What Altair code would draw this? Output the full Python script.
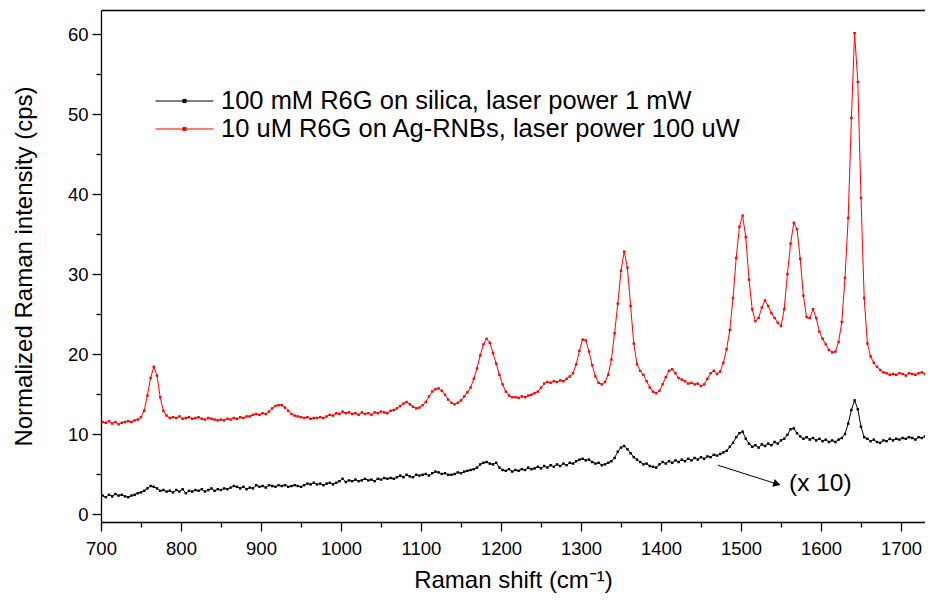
import altair as alt
import pandas as pd

# Raman shift grid (cm^-1), one value every 4 cm^-1
RAMAN_SHIFT = list(range(702, 1731, 4))

# 100 mM R6G on silica (x 10)
SILICA = [
    2.3, 2.1, 2.4, 2.2, 2.5, 2.3, 2.4, 2.2, 2.1, 2.3,
    2.4, 2.6, 2.7, 2.9, 3.2, 3.5, 3.4, 3.2, 2.9, 3.0,
    2.8, 2.9, 2.7, 3.0, 2.8, 3.1, 2.6, 2.9, 2.8, 3.0,
    2.9, 3.1, 2.8, 3.0, 3.2, 2.9, 3.1, 3.0, 3.2, 3.1,
    3.3, 3.5, 3.4, 3.2, 3.4, 3.1, 3.3, 3.2, 3.6, 3.4,
    3.5, 3.3, 3.6, 3.5, 3.4, 3.6, 3.5, 3.6, 3.4, 3.5,
    3.6, 3.5, 3.4, 3.6, 3.8, 3.7, 3.9, 3.7, 3.8, 3.6,
    3.8, 3.9, 3.7, 3.9, 4.1, 4.4, 4.0, 4.2, 4.1, 4.3,
    4.1, 4.2, 4.4, 4.2, 4.3, 4.1, 4.4, 4.3, 4.5, 4.4,
    4.5, 4.4, 4.6, 4.8, 4.6, 4.9, 4.7, 4.6, 4.9, 4.8,
    4.9, 5.0, 4.8, 5.1, 5.3, 5.2, 5.0, 5.1, 4.9, 4.9,
    5.0, 5.2, 5.1, 5.3, 5.4, 5.5, 5.6, 5.8, 6.2, 6.4,
    6.5, 6.3, 6.2, 6.4, 5.8, 5.5, 5.4, 5.6, 5.3, 5.5,
    5.4, 5.6, 5.5, 5.8, 5.6, 5.7, 5.9, 5.7, 6.0, 5.8,
    6.1, 5.9, 6.2, 6.0, 6.3, 6.1, 6.4, 6.3, 6.6, 6.8,
    6.9, 6.7, 6.8, 6.5, 6.3, 6.4, 6.1, 6.2, 6.4, 6.6,
    7.0, 7.8, 8.3, 8.5, 8.1, 7.6, 7.1, 6.8, 6.5, 6.2,
    6.3, 6.0, 5.9, 5.8, 6.2, 6.5, 6.3, 6.6, 6.4, 6.7,
    6.5, 6.8, 6.6, 6.9, 6.7, 7.0, 6.8, 7.1, 6.9, 7.2,
    7.1, 7.4, 7.3, 7.5, 7.7, 7.9, 8.4, 8.9, 9.6, 10.1,
    10.3, 9.4, 8.8, 8.4, 8.6, 8.3, 8.7, 8.5, 8.8, 8.6,
    9.0, 8.8, 9.2, 9.4, 9.9, 10.6, 10.7, 10.1, 9.7, 9.4,
    9.6, 9.3, 9.5, 9.2, 9.4, 9.1, 9.3, 9.0, 9.2, 9.0,
    9.3, 9.5, 10.0, 11.3, 13.0, 14.2, 13.1, 10.9, 9.6, 9.4,
    9.1, 9.3, 9.0, 8.9, 9.2, 9.1, 9.4, 9.2, 9.4, 9.3,
    9.5, 9.4, 9.6, 9.5, 9.3, 9.6, 9.5, 9.7,
]

# 10 uM R6G on Ag-RNBs
AG_RNB = [
    11.5, 11.4, 11.6, 11.3, 11.5, 11.2, 11.4, 11.5, 11.6, 11.5,
    11.7, 11.8, 12.1, 12.9, 14.8, 17.0, 18.4, 17.3, 14.6, 12.9,
    12.3, 12.0, 12.1, 12.0, 12.2, 11.9, 12.0, 12.1, 11.9, 12.0,
    12.1, 11.9, 11.8, 12.0, 11.9, 11.8, 11.7, 11.8, 11.7, 11.9,
    11.8, 12.0, 11.9, 12.1, 12.0, 12.2, 12.2, 12.4, 12.5, 12.4,
    12.6, 12.5, 12.8, 13.2, 13.5, 13.6, 13.6, 13.3, 12.9, 12.5,
    12.3, 12.2, 12.1, 12.0, 12.1, 11.9, 12.0, 12.0, 12.1, 12.0,
    12.2, 12.4, 12.3, 12.6, 12.5, 12.8, 12.6, 12.7, 12.5, 12.6,
    12.4, 12.7, 12.5, 12.6, 12.4, 12.7, 12.6, 12.8, 12.7, 12.6,
    12.9, 13.0, 13.2, 13.5, 13.8, 14.0, 13.7, 13.4, 13.2, 13.3,
    13.6, 14.0, 14.7, 15.3, 15.6, 15.7, 15.4, 14.9, 14.3, 13.9,
    13.7, 13.9, 14.2, 14.7, 15.2, 15.8, 16.9, 18.2, 19.8, 21.2,
    21.9, 21.4, 20.1, 18.8, 17.4, 16.2, 15.3, 14.8, 14.6, 14.6,
    14.5, 14.7, 14.6, 14.8, 14.9, 15.1, 15.3, 15.8, 16.3, 16.5,
    16.4, 16.6, 16.5, 16.7, 16.6, 16.9, 17.2, 17.6, 18.7, 20.4,
    21.8, 21.7, 20.3, 18.6, 17.2, 16.4, 16.2, 16.5, 17.4, 19.3,
    22.6, 26.3, 30.4, 32.8, 30.8, 26.0, 21.3, 18.7, 17.9, 17.4,
    16.6, 15.8, 15.3, 15.1, 15.4, 16.2, 17.1, 17.9, 18.1, 17.6,
    17.0, 16.8, 16.6, 16.3, 16.4, 16.2, 16.3, 16.0, 16.2, 16.9,
    17.6, 17.9, 17.5, 17.8, 18.9, 20.6, 23.0, 27.0, 32.0, 35.9,
    37.3, 34.6, 29.3, 25.6, 24.1, 24.5, 25.8, 26.7, 26.0, 25.1,
    24.5, 23.9, 23.5, 25.6, 30.0, 33.8, 36.4, 35.6, 31.9, 27.3,
    24.6, 24.5, 25.6, 24.5, 22.8, 21.9, 21.2, 20.5, 20.2, 20.3,
    21.5, 24.0, 29.5, 37.0, 49.5, 60.1, 54.0, 39.5, 27.0, 21.3,
    19.7, 18.9, 18.4, 18.0, 17.7, 17.6, 17.4, 17.5, 17.4, 17.6,
    17.5, 17.3, 17.6, 17.5, 17.4, 17.6, 17.7, 17.5,
]

SERIES_NAMES = [
    "100 mM R6G on silica, laser power 1 mW",
    "10 uM R6G on Ag-RNBs, laser power 100 uW",
]
SERIES_COLORS = ["#000000", "#ff0000"]

X_MAJOR = [700, 800, 900, 1000, 1100, 1200, 1300, 1400, 1500, 1600, 1700]
X_MINOR = [750, 850, 950, 1050, 1150, 1250, 1350, 1450, 1550, 1650]
Y_MAJOR = [0, 10, 20, 30, 40, 50, 60]
Y_MINOR = [5, 15, 25, 35, 45, 55]

# annotation "(x 10)" with arrow
ARROW_X = [1471]
ARROW_Y = [6.1]
ARROW_X2 = [1545]
ARROW_Y2 = [3.75]
NOTE_X = [1560]
NOTE_Y = [3.75]
NOTE_TEXT = ["(x 10)"]

FONT = "Liberation Sans"

df = pd.concat([
    pd.DataFrame({"shift": RAMAN_SHIFT, "intensity": SILICA, "series": SERIES_NAMES[0]}),
    pd.DataFrame({"shift": RAMAN_SHIFT, "intensity": AG_RNB, "series": SERIES_NAMES[1]}),
])

x_scale = alt.Scale(domain=[700, 1730], nice=False, zero=False)
y_scale = alt.Scale(domain=[-1, 63], nice=False, zero=False)

legend_path = ("M-1,0L1,0M-0.055,-0.055L0.055,-0.055L0.055,0.055L-0.055,0.055Z")

lines = alt.Chart(df).mark_line(
    strokeWidth=1,
    point=alt.OverlayMarkDef(shape="square", size=6, filled=True, opacity=1),
).encode(
    x=alt.X("shift:Q", scale=x_scale, axis=alt.Axis(
        orient="bottom", values=X_MAJOR, title="Raman shift (cm⁻¹)", format="d",
        tickSize=9, labelPadding=8, labelFontSize=18.5, titleFontSize=24,
        titlePadding=11, grid=False, labelFlush=False)),
    y=alt.Y("intensity:Q", scale=y_scale, axis=alt.Axis(
        orient="left", values=Y_MAJOR, title="Normalized Raman intensity (cps)",
        tickSize=9, labelPadding=4, labelFontSize=18.5, titleFontSize=24,
        titlePadding=31, grid=False)),
    color=alt.Color("series:N", scale=alt.Scale(domain=SERIES_NAMES, range=SERIES_COLORS),
                    legend=alt.Legend(
                        title=None, orient="none", legendX=54, legendY=77,
                        symbolType=legend_path, symbolSize=3364, symbolStrokeWidth=1,
                        labelFontSize=25.5, labelFont=FONT, labelColor="#000000",
                        labelOffset=7, labelLimit=0, clipHeight=28, rowPadding=0,
                        padding=0)),
    order=alt.Order("shift:Q"),
)

minor = alt.Chart(df).mark_point(opacity=0).encode(
    x=alt.X("shift:Q", scale=x_scale, axis=alt.Axis(
        orient="bottom", values=X_MINOR, labels=False, tickSize=5, domain=False,
        title=None, grid=False)),
    y=alt.Y("intensity:Q", scale=y_scale, axis=alt.Axis(
        orient="left", values=Y_MINOR, labels=False, tickSize=5, domain=False,
        title=None, grid=False)),
)

frame = alt.Chart(df).mark_point(opacity=0).encode(
    x=alt.X("shift:Q", scale=x_scale, axis=alt.Axis(
        orient="top", ticks=False, labels=False, title=None, grid=False)),
    y=alt.Y("intensity:Q", scale=y_scale, axis=None),
)

ann = pd.DataFrame({"x": ARROW_X, "y": ARROW_Y, "x2": ARROW_X2, "y2": ARROW_Y2,
                    "tx": NOTE_X, "ty": NOTE_Y, "text": NOTE_TEXT})

arrow = alt.Chart(ann).mark_rule(color="#000000", strokeWidth=1).encode(
    x=alt.X("x:Q", scale=x_scale, axis=None),
    y=alt.Y("y:Q", scale=y_scale, axis=None),
    x2="x2:Q", y2="y2:Q",
)
head = alt.Chart(ann).mark_point(shape="triangle-right", filled=True, color="#000000",
                                 size=70, angle=18, opacity=1).encode(
    x=alt.X("x2:Q", scale=x_scale, axis=None),
    y=alt.Y("y2:Q", scale=y_scale, axis=None),
)
note = alt.Chart(ann).mark_text(align="left", baseline="middle", fontSize=24.5,
                                font=FONT, color="#000000").encode(
    x=alt.X("tx:Q", scale=x_scale, axis=None),
    y=alt.Y("ty:Q", scale=y_scale, axis=None),
    text="text:N",
)

chart = alt.layer(lines, minor, frame, arrow, head, note).resolve_axis(
    x="independent", y="independent"
).properties(
    width=824, height=512, autosize="none",
    padding={"left": 93, "top": 2, "right": 0, "bottom": 73},
    background="#ffffff",
).configure_view(stroke=None).configure_axis(
    domainColor="#000000", tickColor="#000000", labelColor="#000000",
    titleColor="#000000", labelFont=FONT, titleFont=FONT, titleFontWeight="normal",
    domainWidth=1.3, tickWidth=1.3,
)

chart.save("out.html", embed_options={"renderer": "svg", "actions": False})
